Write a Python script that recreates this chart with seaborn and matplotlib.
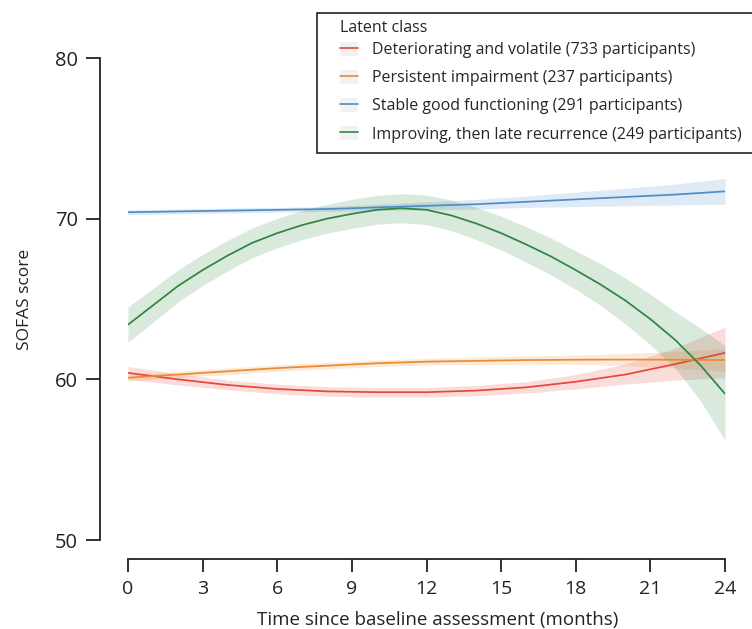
import numpy as np
import pandas as pd
import matplotlib
matplotlib.use("Agg")
import matplotlib.pyplot as plt
import seaborn as sns
from matplotlib.lines import Line2D
from matplotlib.patches import Patch, Rectangle

months = [0, 2, 4, 6, 8, 10, 12, 14, 16, 18, 20, 22, 24]
months_green = list(range(25))

classes = [
    "Deteriorating and volatile (733 participants)",
    "Persistent impairment (237 participants)",
    "Stable good functioning (291 participants)",
    "Improving, then late recurrence (249 participants)",
]
colors = ["#e4473b", "#ee8a2e", "#4d8ec8", "#2e8540"]

red_mean = [60.4, 60.0, 59.65, 59.4, 59.25, 59.2, 59.2, 59.3, 59.5, 59.85, 60.3, 60.95, 61.65]
red_low = [60.0, 59.65, 59.35, 59.1, 58.95, 58.9, 58.9, 58.98, 59.15, 59.4, 59.7, 59.95, 60.1]
red_high = [60.8, 60.35, 59.95, 59.7, 59.55, 59.5, 59.5, 59.62, 59.85, 60.3, 60.95, 61.95, 63.25]

orange_mean = [60.1, 60.3, 60.5, 60.7, 60.85, 61.0, 61.1, 61.15, 61.2, 61.22, 61.23, 61.22, 61.2]
orange_low = [59.9, 60.1, 60.3, 60.5, 60.65, 60.8, 60.9, 60.93, 60.95, 60.93, 60.85, 60.7, 60.5]
orange_high = [60.3, 60.5, 60.7, 60.9, 61.05, 61.2, 61.3, 61.37, 61.45, 61.51, 61.61, 61.74, 61.9]

blue_mean = [70.4, 70.45, 70.5, 70.55, 70.6, 70.7, 70.8, 70.9, 71.05, 71.2, 71.35, 71.5, 71.7]
blue_low = [70.25, 70.3, 70.35, 70.4, 70.45, 70.5, 70.55, 70.6, 70.7, 70.75, 70.8, 70.85, 70.9]
blue_high = [70.55, 70.6, 70.65, 70.7, 70.75, 70.9, 71.05, 71.2, 71.4, 71.65, 71.9, 72.15, 72.5]

green_mean = [63.4, 64.6, 65.8, 66.8, 67.7, 68.5, 69.1, 69.6, 70.0, 70.3, 70.55, 70.65, 70.55,
              70.2, 69.7, 69.1, 68.4, 67.65, 66.8, 65.9, 64.9, 63.75, 62.45, 60.9, 59.1]
green_low = [62.3, 63.55, 64.8, 65.83, 66.75, 67.57, 68.18, 68.7, 69.1, 69.4, 69.65, 69.75, 69.63,
             69.25, 68.7, 68.05, 67.3, 66.5, 65.6, 64.6, 63.45, 62.15, 60.7, 58.7, 56.2]
green_high = [64.5, 65.65, 66.8, 67.77, 68.65, 69.43, 70.02, 70.5, 70.9, 71.2, 71.45, 71.55, 71.47,
              71.15, 70.7, 70.15, 69.5, 68.8, 68.0, 67.2, 66.3, 65.3, 64.2, 63.2, 62.1]

x_ticks = [0, 3, 6, 9, 12, 15, 18, 21, 24]
y_ticks = [50, 60, 70, 80]

sns.set_theme(style="ticks")
plt.rcParams["font.family"] = ["Open Sans", "DejaVu Sans"]

series = [
    (classes[0], months, red_mean, red_low, red_high),
    (classes[1], months, orange_mean, orange_low, orange_high),
    (classes[2], months, blue_mean, blue_low, blue_high),
    (classes[3], months_green, green_mean, green_low, green_high),
]
rows = []
for c, ts, m, lo, hi in series:
    for t, v, l, h in zip(ts, m, lo, hi):
        rows.append({"month": t, "score": v, "low": l, "high": h, "cls": c})
df = pd.DataFrame(rows)

fig = plt.figure(figsize=(7.52, 6.29), dpi=100)
ax = fig.add_axes([128 / 752, 1 - 540 / 629, (725 - 128) / 752, (540 - 58) / 629])

palette = dict(zip(classes, colors))
for c in classes:
    sub = df[df["cls"] == c]
    ax.fill_between(sub["month"], sub["low"], sub["high"], color=palette[c], alpha=0.18, lw=0)
sns.lineplot(data=df, x="month", y="score", hue="cls", palette=palette,
             hue_order=classes, lw=1.25, ax=ax, legend=False, estimator=None)

ax.set_xlim(0, 24)
ax.set_ylim(50, 80)
ax.set_xticks(x_ticks)
ax.set_yticks(y_ticks)
ax.tick_params(axis="y", labelsize=14.5, width=1.3, length=10, pad=6, color="#222222", labelcolor="#222222")
ax.tick_params(axis="x", labelsize=14, width=1.3, length=9, pad=6, color="#222222", labelcolor="#222222")
ax.set_xlabel("Time since baseline assessment (months)", fontsize=13.5, color="#222222", labelpad=9)
ax.set_ylabel("SOFAS score", fontsize=12.5, color="#222222", labelpad=16)
ax.xaxis.label.set_x((438 - 128) / 597)
sns.despine(ax=ax, offset={"left": 20, "bottom": 14}, trim=True)
for s in ["left", "bottom"]:
    ax.spines[s].set_linewidth(1.3)
    ax.spines[s].set_color("#222222")

# legend frame (extends past the right edge, as in the reference)
fig.patches.append(Rectangle((317 / 752, 1 - 153 / 629), 460 / 752, 140 / 629,
                             transform=fig.transFigure, facecolor="white",
                             edgecolor="#222222", lw=1.2, zorder=5))

handles = []
for col in colors:
    handles.append((Patch(facecolor="#cccccc", alpha=0.25, edgecolor="none"), Line2D([], [], color=col, lw=1.2)))
leg = fig.legend(handles, classes, title="Latent class", loc="upper left",
                 bbox_to_anchor=(340 / 752, 1 - 20 / 629), bbox_transform=fig.transFigure,
                 frameon=False, fontsize=11.5, title_fontsize=11.5,
                 handlelength=1.15, handleheight=1.0, handletextpad=0.85, labelspacing=0.72,
                 borderpad=0.0, borderaxespad=0)
leg._legend_box.align = "left"
leg._legend_box.sep = 4
leg.set_zorder(6)

fig.savefig("out.png", dpi=100)
